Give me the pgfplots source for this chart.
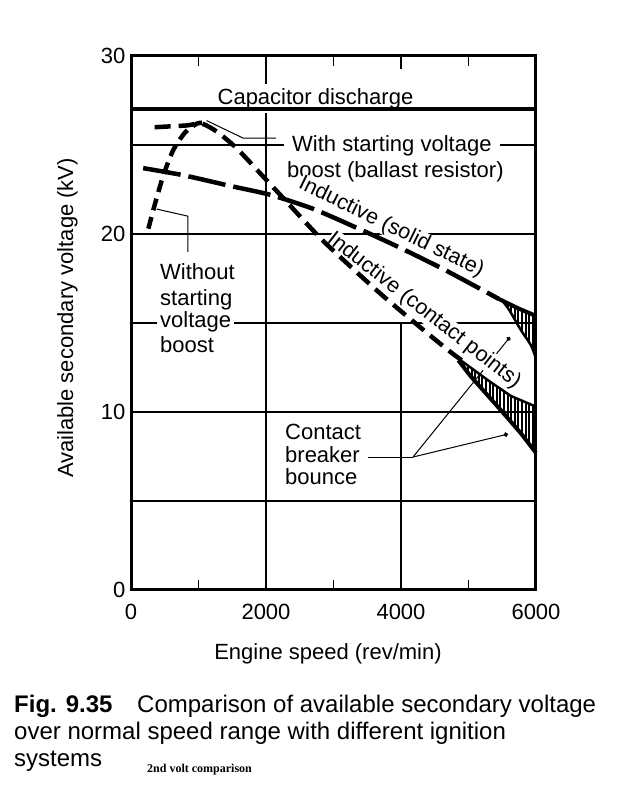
\documentclass[border=0pt]{standalone}
\usepackage{fontspec}
\setmainfont{Liberation Sans}
\newfontfamily\serifbold{Liberation Serif}
\usepackage{pgfplots}
\pgfplotsset{compat=1.18}
\usetikzlibrary{patterns.meta,arrows.meta}

\newcommand{\lblfont}{\fontsize{22}{24}\selectfont}
\newcommand{\capfont}{\fontsize{24}{27}\selectfont}
\tikzset{lab/.style={font=\lblfont, inner xsep=3pt, inner ysep=2pt, fill=white, anchor=base west}}

\begin{document}
\begin{tikzpicture}[x=1pt,y=1pt]
\useasboundingbox (0,0) rectangle (630,787);
\begin{axis}[
  at={(131pt,197pt)}, anchor=south west,
  width=405pt, height=534pt, scale only axis,
  xmin=0, xmax=6000, ymin=0, ymax=30,
  xtick={0,2000,4000,6000}, minor xtick={1000,3000,5000},
  ytick={0,10,20,30}, minor ytick={5,15,25},
  tick align=inside, major tick length=13pt, minor tick length=10pt,
  every tick/.style={black, line width=1.2pt},
  axis line style={line width=3pt},
  /pgf/number format/assume math mode=true,
  /pgf/number format/1000 sep={},
  ticklabel style={font=\lblfont},
  xticklabel style={yshift=-11pt},
  yticklabel style={xshift=-2pt},
  clip=false,
]
% grid lines
\draw[line width=1.2pt] (axis cs:0,5) -- (axis cs:6000,5);
\draw[line width=1.2pt] (axis cs:0,10) -- (axis cs:6000,10);
\draw[line width=1.2pt] (axis cs:0,15) -- (axis cs:6000,15);
\draw[line width=1.2pt] (axis cs:0,20) -- (axis cs:6000,20);
\draw[line width=1.2pt] (axis cs:0,25) -- (axis cs:6000,25);
\draw[line width=1.2pt] (axis cs:2000,0) -- (axis cs:2000,30);
\draw[line width=1.2pt] (axis cs:4000,0) -- (axis cs:4000,15);

% leader lines
\draw[line width=1pt] (axis cs:1121,26.37) -- (axis cs:1659,25.39) -- (axis cs:2148,25.39);
\draw[line width=1pt] (axis cs:381,21.4) -- (axis cs:844,21.0) -- (axis cs:844,19.0);
\draw[line width=1pt] (axis cs:3511,7.47) -- (axis cs:4178,7.47);
\draw[line width=1pt,-{Circle[length=4.5pt]}] (axis cs:4178,7.47) -- (axis cs:5615,14.21);
\draw[line width=1pt,-{Circle[length=4.5pt]}] (axis cs:4178,7.47) -- (axis cs:5585,8.76);

% text labels
\node[lab, anchor=base, inner xsep=6pt, inner ysep=4pt] at (axis cs:2733,27.3) {Capacitor discharge};
\node[lab, inner xsep=8pt] at (axis cs:2267,24.61) {With starting voltage};
\node[lab] at (axis cs:2267,23.20) {boost (ballast resistor)};
\node[lab] at (axis cs:385,17.42) {Without};
\node[lab] at (axis cs:385,16.01) {starting};
\node[lab] at (axis cs:385,14.72) {voltage};
\node[lab] at (axis cs:385,13.37) {boost};
\node[lab] at (axis cs:2237,8.48) {Contact};
\node[lab] at (axis cs:2237,7.19) {breaker};
\node[lab] at (axis cs:2237,5.90) {bounce};
\node[lab, anchor=base, rotate=-26, inner sep=0.5pt, font=\fontsize{21.5}{24}\selectfont] at (axis cs:3820,20.1) {Inductive (solid state)};
\node[lab, anchor=base, rotate=-38, inner sep=0.5pt, font=\fontsize{21.5}{24}\selectfont] at (axis cs:4290,15.45) {Inductive (contact points)};

% hatched regions
\addplot[draw=none, pattern={Lines[angle=90,distance=3.6pt,line width=2pt]}] coordinates {
 (5500,16.25) (5750,15.8) (6000,15.4) (6000,13.0) (5925,13.75) (5777,14.6) (5600,15.75) (5500,16.25)} -- cycle;
\addplot[draw=none, pattern={Lines[angle=90,distance=3.6pt,line width=2pt]}] coordinates {
 (4850,13.0) (5282,11.8) (5628,10.9) (6000,10.3) (6000,7.7) (5777,8.8) (5480,10.1) (5034,12.0) (4850,12.9)} -- cycle;

% capacitor discharge
\addplot[line width=4pt] coordinates {(0,27) (6000,27)};

% with starting voltage boost / inductive contact points
\addplot[line width=4.5pt, dash pattern=on 16pt off 8pt, smooth, tension=0.4] coordinates {
 (350,26.0) (600,26.05) (830,26.1) (1050,26.2) (1272,25.75) (1570,24.8) (1965,23.2) (2260,22.0)
 (2850,19.6) (3650,16.8) (4240,14.9) (4690,13.5) (4900,12.9)};
% without starting voltage boost
\addplot[line width=4.5pt, dash pattern=on 12pt off 7pt, smooth, tension=0.4] coordinates {
 (257,20.3) (356,21.7) (480,23.3) (624,24.7) (800,25.7) (975,26.2) (1050,26.25)};
% inductive solid state
\addplot[line width=4.5pt, dash pattern=on 38pt off 8pt, smooth, tension=0.4] coordinates {
 (180,23.7) (777,23.3) (1470,22.7) (2064,22.2) (2707,21.4) (3400,20.25) (3945,19.3) (4590,18.1) (5183,16.9) (5450,16.35)};
% solid-state bounce edges
\addplot[line width=4pt] coordinates {(5450,16.35) (5750,15.8) (6000,15.4)};
\addplot[line width=2.5pt, smooth] coordinates {(5500,16.25) (5600,15.75) (5777,14.6) (5925,13.75) (6000,13.0)};
% contact-points bounce edges
\addplot[line width=2.5pt] coordinates {(4850,13.0) (5282,11.8) (5628,10.9) (6000,10.3)};
\addplot[line width=4pt] coordinates {(4850,12.9) (5034,12.0) (5480,10.1) (5777,8.8) (6000,7.7)};
\end{axis}

% axis labels
\node[anchor=base, font=\lblfont, inner sep=0pt] at (328,127) {Engine speed (rev/min)};
\node[anchor=base, rotate=90, font=\lblfont, inner sep=0pt] at (73,469) {Available secondary voltage (kV)};

% caption
\node[anchor=base west, inner sep=0pt, font=\capfont\bfseries] at (14,74) {Fig. 9.35};
\node[anchor=base west, inner sep=0pt, font=\capfont] at (137,74) {Comparison of available secondary voltage};
\node[anchor=base west, inner sep=0pt, font=\capfont] at (14,47) {over normal speed range with different ignition};
\node[anchor=base west, inner sep=0pt, font=\capfont] at (14,20) {systems};
\node[anchor=base west, inner sep=0pt, font=\serifbold\bfseries\fontsize{12}{14}\selectfont] at (147,14.5) {2nd volt comparison};
\end{tikzpicture}
\end{document}
